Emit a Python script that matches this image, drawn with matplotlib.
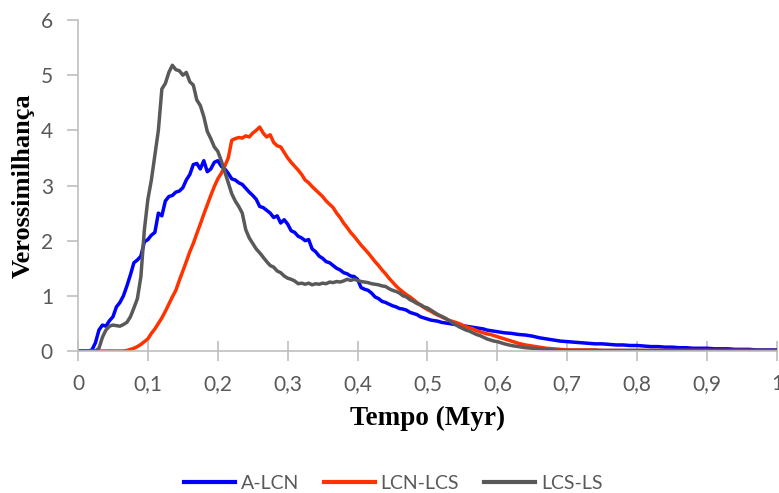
import numpy as np
import matplotlib.pyplot as plt

# Tempo (Myr): fine sampling up to 0.6, then coarser
tempo_fine = [0.000, 0.005, 0.010, 0.015, 0.020, 0.025, 0.030, 0.035, 0.040, 0.045,
              0.050, 0.055, 0.060, 0.065, 0.070, 0.075, 0.080, 0.085, 0.090, 0.095,
              0.100, 0.105, 0.110, 0.115, 0.120, 0.125, 0.130, 0.135, 0.140, 0.145,
              0.150, 0.155, 0.160, 0.165, 0.170, 0.175, 0.180, 0.185, 0.190, 0.195,
              0.200, 0.205, 0.210, 0.215, 0.220, 0.225, 0.230, 0.235, 0.240, 0.245,
              0.250, 0.255, 0.260, 0.265, 0.270, 0.275, 0.280, 0.285, 0.290, 0.295,
              0.300, 0.305, 0.310, 0.315, 0.320, 0.325, 0.330, 0.335, 0.340, 0.345,
              0.350, 0.355, 0.360, 0.365, 0.370, 0.375, 0.380, 0.385, 0.390, 0.395,
              0.400, 0.405, 0.410, 0.415, 0.420, 0.425, 0.430, 0.435, 0.440, 0.445,
              0.450, 0.455, 0.460, 0.465, 0.470, 0.475, 0.480, 0.485, 0.490, 0.495,
              0.500, 0.505, 0.510, 0.515, 0.520, 0.525, 0.530, 0.535, 0.540, 0.545,
              0.550, 0.555, 0.560, 0.565, 0.570, 0.575, 0.580, 0.585, 0.590, 0.595,
              0.600]
tempo_coarse = [0.61, 0.62, 0.63, 0.64, 0.65, 0.66, 0.67, 0.68, 0.69, 0.70,
                0.71, 0.72, 0.73, 0.74, 0.75, 0.76, 0.77, 0.78, 0.79, 0.80,
                0.81, 0.82, 0.83, 0.84, 0.85, 0.86, 0.87, 0.88, 0.89, 0.90,
                0.91, 0.92, 0.93, 0.94, 0.95, 0.96, 0.97, 0.98, 0.99, 1.00]

a_lcn = [0, 0, 0, 0, 0.02, 0.15, 0.38, 0.47, 0.45, 0.55,
         0.62, 0.8, 0.88, 1.0, 1.18, 1.38, 1.6, 1.65, 1.72, 1.98,
         2.02, 2.1, 2.15, 2.5, 2.45, 2.72, 2.8, 2.82, 2.88, 2.9,
         2.96, 3.1, 3.2, 3.38, 3.4, 3.3, 3.45, 3.25, 3.3, 3.42,
         3.45, 3.35, 3.3, 3.22, 3.12, 3.1, 3.05, 3.02, 2.95, 2.88,
         2.82, 2.75, 2.62, 2.6, 2.55, 2.5, 2.42, 2.45, 2.32, 2.38,
         2.3, 2.18, 2.15, 2.08, 2.05, 2.0, 2.02, 1.85, 1.8, 1.72,
         1.68, 1.62, 1.6, 1.55, 1.5, 1.47, 1.42, 1.4, 1.36, 1.35,
         1.3, 1.15, 1.12, 1.1, 1.05, 0.98, 0.95, 0.9, 0.88, 0.85,
         0.82, 0.8, 0.77, 0.76, 0.74, 0.7, 0.68, 0.66, 0.62, 0.6,
         0.58, 0.56, 0.55, 0.54, 0.52, 0.51, 0.5, 0.49, 0.48, 0.47,
         0.46, 0.45, 0.44, 0.43, 0.42, 0.41, 0.4, 0.38, 0.37, 0.36,
         0.35,
         0.33, 0.32, 0.3, 0.29, 0.27, 0.24, 0.22, 0.2, 0.18, 0.17,
         0.16, 0.15, 0.14, 0.13, 0.13, 0.12, 0.11, 0.11, 0.1, 0.1,
         0.09, 0.08, 0.08, 0.07, 0.07, 0.06, 0.06, 0.05, 0.05, 0.05,
         0.04, 0.04, 0.04, 0.03, 0.03, 0.03, 0.02, 0.02, 0.02, 0.02]

lcn_lcs = [0, 0, 0, 0, 0, 0, 0, 0, 0, 0,
           0, 0, 0, 0, 0.01, 0.03, 0.05, 0.08, 0.12, 0.17,
           0.22, 0.32, 0.4, 0.5, 0.6, 0.72, 0.85, 0.98, 1.1, 1.28,
           1.45, 1.62, 1.8, 1.95, 2.13, 2.3, 2.48, 2.65, 2.82, 2.98,
           3.12, 3.22, 3.35, 3.5, 3.82, 3.85, 3.87, 3.86, 3.9, 3.88,
           3.95, 4.0, 4.06, 3.95, 3.88, 3.92, 3.78, 3.72, 3.7, 3.6,
           3.5, 3.42, 3.35, 3.28, 3.2, 3.1, 3.05, 2.98, 2.92, 2.86,
           2.8, 2.72, 2.66, 2.6, 2.5, 2.42, 2.32, 2.24, 2.15, 2.08,
           2.0, 1.92, 1.85, 1.78, 1.7, 1.62, 1.55, 1.47, 1.4, 1.32,
           1.25, 1.18, 1.12, 1.07, 1.02, 0.98, 0.93, 0.88, 0.83, 0.79,
           0.75, 0.72, 0.68, 0.65, 0.62, 0.59, 0.56, 0.54, 0.52, 0.5,
           0.47, 0.44, 0.42, 0.4, 0.37, 0.35, 0.33, 0.31, 0.3, 0.28,
           0.26,
           0.22, 0.18, 0.14, 0.11, 0.09, 0.07, 0.05, 0.04, 0.03, 0.02,
           0.02, 0.02, 0.02, 0.02, 0.01, 0.01, 0.01, 0.01, 0.01, 0.01,
           0.01, 0.01, 0.01, 0.01, 0.01, 0.01, 0.01, 0.01, 0.01, 0.01,
           0.01, 0.01, 0.01, 0.01, 0.01, 0.01, 0.01, 0.01, 0.01, 0.01]

lcs_ls = [0, 0, 0, 0, 0, 0, 0.05, 0.25, 0.38, 0.45,
          0.47, 0.46, 0.45, 0.48, 0.52, 0.62, 0.78, 0.95, 1.35, 2.2,
          2.75, 3.1, 3.55, 4.0, 4.75, 4.85, 5.05, 5.18, 5.1, 5.08,
          5.0, 5.05, 4.88, 4.82, 4.55, 4.45, 4.25, 3.98, 3.85, 3.7,
          3.62, 3.45, 3.25, 3.05, 2.85, 2.72, 2.62, 2.5, 2.2, 2.05,
          1.95, 1.85, 1.78, 1.7, 1.62, 1.55, 1.52, 1.45, 1.42, 1.36,
          1.32, 1.3, 1.27, 1.22, 1.23, 1.21, 1.23, 1.2, 1.22, 1.21,
          1.23, 1.22, 1.25, 1.24, 1.26, 1.25, 1.27, 1.3, 1.28, 1.3,
          1.28, 1.26, 1.25, 1.24, 1.22, 1.21, 1.2, 1.18, 1.17, 1.13,
          1.1, 1.08, 1.05, 1.0, 0.98, 0.93, 0.9, 0.86, 0.84, 0.8,
          0.78, 0.74, 0.7, 0.66, 0.63, 0.6, 0.56, 0.52, 0.48, 0.44,
          0.41, 0.38, 0.36, 0.33, 0.3, 0.28, 0.25, 0.22, 0.2, 0.18,
          0.17,
          0.13, 0.1, 0.08, 0.06, 0.05, 0.04, 0.03, 0.02, 0.01, 0.01,
          0.01, 0.01, 0.01, 0.01, 0.01, 0.01, 0.01, 0.01, 0.01, 0.01,
          0.01, 0.01, 0.01, 0.01, 0.01, 0.01, 0.01, 0.01, 0.01, 0.01,
          0.01, 0.01, 0.01, 0.01, 0.01, 0.01, 0.01, 0.01, 0.01, 0.01]

series_names = ["A-LCN", "LCN-LCS", "LCS-LS"]
series_colors = ["#0000FF", "#FF3300", "#595959"]

x_ticks = [0, 0.1, 0.2, 0.3, 0.4, 0.5, 0.6, 0.7, 0.8, 0.9, 1.0]
x_labels = ["0", "0,1", "0,2", "0,3", "0,4", "0,5", "0,6", "0,7", "0,8", "0,9", "1"]
y_ticks = [0, 1, 2, 3, 4, 5, 6]

tempo = np.array(tempo_fine + tempo_coarse)

fig = plt.figure(figsize=(7.79, 4.93), dpi=100)
ax = fig.add_axes([0.1001, 0.288, 0.8973, 0.6714])

for values, name, col in zip([a_lcn, lcn_lcs, lcs_ls], series_names, series_colors):
    ax.plot(tempo, values, color=col, lw=2.5, label=name, solid_joinstyle="round")

ax.set_xlim(0, 1)
ax.set_ylim(0, 6)
ax.set_xticks(x_ticks)
ax.set_xticklabels(x_labels)
ax.set_yticks(y_ticks)

for s in ["top", "right"]:
    ax.spines[s].set_visible(False)
for s in ["left", "bottom"]:
    ax.spines[s].set_color("#BFBFBF")
    ax.spines[s].set_linewidth(1.2)

ax.tick_params(axis="x", direction="inout", length=15, width=1.2, color="#BFBFBF",
               labelsize=15, labelcolor="#595959", pad=9)
ax.tick_params(axis="y", direction="out", length=8, width=1.2, color="#BFBFBF",
               labelsize=15, labelcolor="#595959", pad=10)
for lab in ax.get_xticklabels() + ax.get_yticklabels():
    lab.set_family("Lato")

ax.set_xlabel("Tempo (Myr)", family="Liberation Serif", weight="bold", fontsize=19.5)
ax.set_ylabel("Verossimilhança", family="Liberation Serif", weight="bold", fontsize=19)
ax.xaxis.set_label_coords(0.5, -0.165)
ax.yaxis.set_label_coords(-0.062, 0.5)

leg = fig.legend(loc="center", bbox_to_anchor=(0.505, 0.02), ncol=3, frameon=False,
                 handlelength=2.6, handletextpad=0.3, columnspacing=1.3,
                 prop={"family": "Lato", "size": 14})
for t in leg.get_texts():
    t.set_color("#595959")
for h in leg.get_lines():
    h.set_linewidth(3)

fig.savefig("out.png", dpi=100)
